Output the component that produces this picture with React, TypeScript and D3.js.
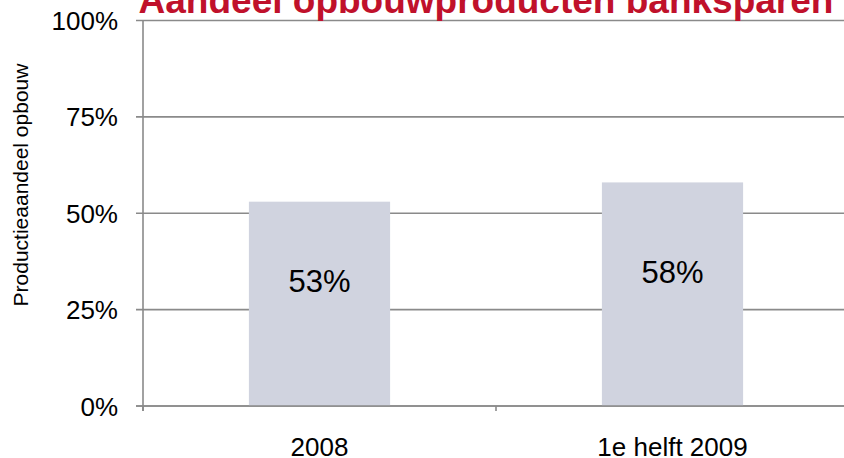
import React from "react";
import * as d3 from "d3";

const categories: string[] = ["2008", "1e helft 2009"];
const shareValues: number[] = [0.53, 0.58];
const valueLabels: string[] = ["53%", "58%"];
const yTicks: number[] = [0, 0.25, 0.5, 0.75, 1];
const titleText = "Aandeel opbouwproducten banksparen";
const yAxisTitle = "Productieaandeel opbouw";

const W = 844;
const H = 458;
const FONT = "'Liberation Sans', Arial, Helvetica, sans-serif";

export default function App() {
  const plotLeft = 143;
  const plotRight = 849;
  const plotTop = 20.5;
  const plotBottom = 406;

  const y = d3.scaleLinear().domain([0, 1]).range([plotBottom, plotTop]);
  const x = d3
    .scaleBand<string>()
    .domain(categories)
    .range([plotLeft, plotRight])
    .paddingInner(0.6)
    .paddingOuter(0.3);

  const step = x.step();
  const boundaries = d3.range(categories.length + 1).map((i) => plotLeft + i * step);
  const fmt = d3.format(".0%");
  const grid = "#8a8a8a";

  return (
    <svg
      width={W}
      height={H}
      style={{ position: "absolute", left: 0, top: 0, display: "block", background: "#fff" }}
      fontFamily={FONT}
    >
      {/* gridlines + y ticks */}
      {yTicks.map((t) => (
        <line key={"g" + t} x1={136} x2={W} y1={y(t)} y2={y(t)} stroke={grid} strokeWidth={1.6} />
      ))}
      {/* bars */}
      {categories.map((c, i) => (
        <rect
          key={c}
          x={x(c)}
          y={y(shareValues[i])}
          width={x.bandwidth()}
          height={y(0) - y(shareValues[i])}
          fill="#d0d3df"
        />
      ))}
      {/* baseline redraw */}
      <line x1={136} x2={W} y1={y(0)} y2={y(0)} stroke={grid} strokeWidth={1.6} />
      {/* y axis line */}
      <line x1={plotLeft} x2={plotLeft} y1={plotTop} y2={411} stroke={grid} strokeWidth={1.6} />
      {/* category ticks */}
      {boundaries.map((b, i) => (
        <line key={"ct" + i} x1={b} x2={b} y1={y(0)} y2={411} stroke={grid} strokeWidth={1.6} />
      ))}
      {/* y tick labels */}
      {yTicks.map((t) => (
        <text
          key={"yl" + t}
          x={118}
          y={y(t) + 9.5}
          textAnchor="end"
          fontSize={26}
          fill="#000"
        >
          {fmt(t)}
        </text>
      ))}
      {/* x labels */}
      {categories.map((c) => (
        <text
          key={"xl" + c}
          x={(x(c) as number) + x.bandwidth() / 2}
          y={456}
          textAnchor="middle"
          fontSize={26}
          fill="#000"
        >
          {c}
        </text>
      ))}
      {/* value labels */}
      {categories.map((c, i) => (
        <text
          key={"vl" + c}
          x={(x(c) as number) + x.bandwidth() / 2}
          y={y(shareValues[i] / 2) - 11.5}
          textAnchor="middle"
          fontSize={31}
          fill="#000"
        >
          {valueLabels[i]}
        </text>
      ))}
      {/* y axis title */}
      <text
        transform={`translate(28,185) rotate(-90)`}
        textAnchor="middle"
        fontSize={21}
        fill="#000"
      >
        {yAxisTitle}
      </text>
      {/* title */}
      <text
        x={486}
        y={13}
        textAnchor="middle"
        fontSize={37}
        fontWeight="bold"
        fill="#c0112b"
      >
        {titleText}
      </text>
    </svg>
  );
}
